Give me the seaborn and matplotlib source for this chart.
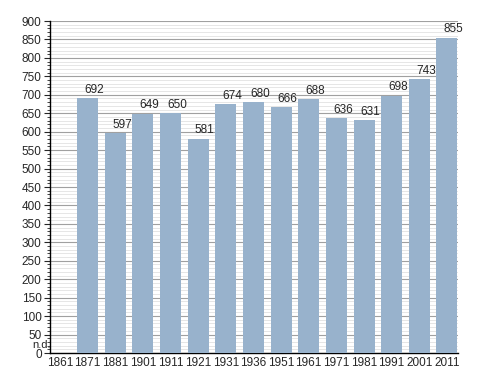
import numpy as np
import pandas as pd
import seaborn as sns
import matplotlib
matplotlib.use("Agg")
import matplotlib.pyplot as plt
from matplotlib.ticker import MultipleLocator

years = ["1861", "1871", "1881", "1901", "1911", "1921", "1931", "1936",
         "1951", "1961", "1971", "1981", "1991", "2001", "2011"]
population = [np.nan, 692, 597, 649, 650, 581, 674, 680,
              666, 688, 636, 631, 698, 743, 855]

df = pd.DataFrame({"year": years, "pop": population})

sns.set_style("white")
plt.rcParams["font.family"] = ["Liberation Sans", "DejaVu Sans"]

fig = plt.figure(figsize=(4.88, 3.73), dpi=100)
ax = fig.add_axes([0.1025, 0.0536, 0.836, 0.890])

sns.barplot(data=df, x="year", y="pop", order=years, color="#98b2cc",
            saturation=1, width=0.76, linewidth=0, ax=ax, zorder=3)

ax.set_ylim(0, 900)
ax.set_xlim(-0.36, 14.4)
ax.yaxis.set_major_locator(MultipleLocator(50))
ax.yaxis.set_minor_locator(MultipleLocator(10))
ax.grid(which="major", axis="y", color="#a0a0a0", linewidth=0.8, zorder=0)
ax.grid(which="minor", axis="y", color="#e2e2e2", linewidth=0.6, zorder=0)
ax.set_axisbelow(True)

for s in ["top", "right"]:
    ax.spines[s].set_visible(False)
for s in ["left", "bottom"]:
    ax.spines[s].set_color("black")
    ax.spines[s].set_linewidth(1.0)

ax.tick_params(axis="y", which="major", direction="out", length=4, width=0.8,
               labelsize=8.5, left=True, pad=2)
ax.tick_params(axis="y", which="minor", direction="out", length=2, width=0.6, left=True)
ax.tick_params(axis="x", length=0, labelsize=8.5, pad=3)
ax.set_xlabel("")
ax.set_ylabel("")

for i, v in enumerate(population):
    if np.isnan(v):
        ax.text(-0.66, 9, "n.d.", ha="center", va="bottom", fontsize=8, clip_on=False)
    else:
        ax.text(i + 0.24, v + 6, f"{int(v)}", ha="center", va="bottom", fontsize=8.5)

fig.savefig("out.png", dpi=100)
